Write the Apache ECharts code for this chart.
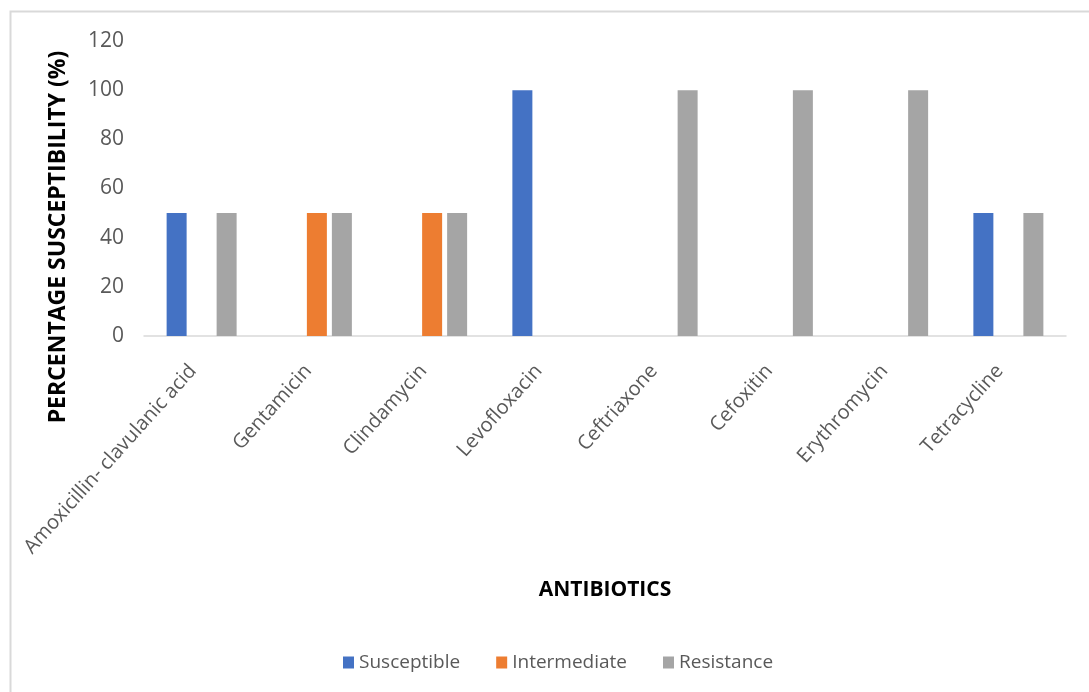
<!DOCTYPE html>
<html>
<head>
<meta charset="utf-8">
<script src="https://cdn.jsdelivr.net/npm/echarts@6/dist/echarts.min.js"></script>
<style>
  html, body { margin: 0; padding: 0; background: #fff; }
  #chart { width: 1089px; height: 692px; }
</style>
</head>
<body>
<div id="chart"></div>
<script>
// Antibiotic susceptibility profile (%)
const antibiotics = [
  'Amoxicillin- clavulanic acid', 'Gentamicin', 'Clindamycin', 'Levofloxacin',
  'Ceftriaxone', 'Cefoxitin', 'Erythromycin', 'Tetracycline'
];
const susceptible  = [50, 0, 0, 100, 0, 0, 0, 50];
const intermediate = [0, 50, 50, 0, 0, 0, 0, 0];
const resistance   = [50, 50, 50, 0, 100, 100, 100, 50];
const seriesNames  = ['Susceptible', 'Intermediate', 'Resistance'];
const seriesColors = ['#4472C4', '#ED7D31', '#A5A5A5'];

const FONT = '"Open Sans", "Noto Sans", sans-serif';
const chart = echarts.init(document.getElementById('chart'));

const values = [susceptible, intermediate, resistance];

chart.setOption({
  animation: false,
  backgroundColor: '#fff',
  textStyle: { fontFamily: FONT },
  grid: { left: 144, right: 23, top: 41, bottom: 356, containLabel: false },
  legend: {
    data: seriesNames,
    left: 338,
    top: 648,
    icon: 'rect',
    itemWidth: 11,
    itemHeight: 12,
    itemGap: 36,
    textStyle: { fontSize: 19, color: '#595959', fontFamily: FONT }
  },
  xAxis: {
    type: 'category',
    data: antibiotics,
    name: 'ANTIBIOTICS',
    nameLocation: 'middle',
    nameGap: 244,
    nameTextStyle: { fontSize: 21, fontWeight: 'bold', color: '#000', fontFamily: FONT },
    axisLine: { lineStyle: { color: '#D9D9D9', width: 1.5 } },
    axisTick: { show: false },
    axisLabel: {
      rotate: 48,
      interval: 0,
      margin: 22,
      padding: [0, 13, 0, 0],
      fontSize: 20,
      color: '#595959',
      fontFamily: FONT
    }
  },
  yAxis: {
    type: 'value',
    min: 0,
    max: 120,
    interval: 20,
    axisLine: { show: false },
    axisTick: { show: false },
    splitLine: { show: false },
    axisLabel: { fontSize: 21, color: '#595959', margin: 20, fontFamily: FONT }
  },
  graphic: [
    {
      type: 'polyline',
      shape: { points: [[10.5, 700], [10.5, 11.5], [1100, 11.5]] },
      style: { stroke: '#D9D9D9', lineWidth: 2, fill: null },
      silent: true
    },
    {
      type: 'text',
      x: 58,
      y: 237,
      rotation: Math.PI / 2,
      style: {
        text: 'PERCENTAGE SUSCEPTIBILITY (%)',
        fontSize: 23,
        fontWeight: 'bold',
        fontFamily: FONT,
        fill: '#000',
        align: 'center',
        verticalAlign: 'middle'
      }
    }
  ],
  series: seriesNames.map((name, i) => ({
    name: name,
    type: 'bar',
    data: values[i],
    barWidth: 20,
    barGap: '25%',
    itemStyle: { color: seriesColors[i] }
  }))
});
</script>
</body>
</html>
